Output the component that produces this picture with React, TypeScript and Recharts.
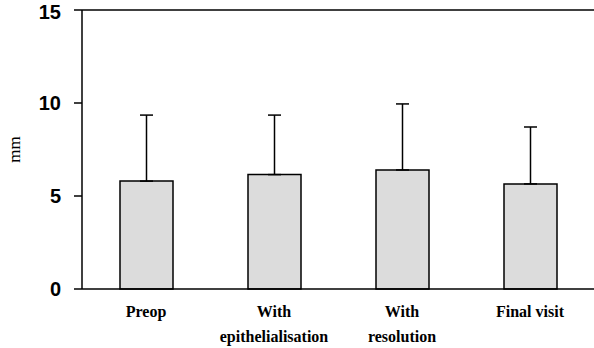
import React from "react";
import { BarChart, Bar, XAxis, YAxis, ErrorBar, ReferenceLine } from "recharts";

const categories = ["Preop", "With\nepithelialisation", "With\nresolution", "Final visit"];
const means = [5.8, 6.15, 6.4, 5.65];
const sdUp = [3.55, 3.2, 3.55, 3.06];
const yTicks = [0, 5, 10, 15];

const data = categories.map((c, i) => ({ name: c, value: means[i], err: [0, sdUp[i]] }));

const XTick = (props: any) => {
  const { x, y, payload } = props;
  const lines = String(payload.value).split("\n");
  return (
    <g>
      {lines.map((l: string, i: number) => (
        <text
          key={i}
          x={x}
          y={y + 28 + i * 25}
          textAnchor="middle"
          fontFamily="'Liberation Serif', 'Times New Roman', serif"
          fontWeight="bold"
          fontSize={16}
          fill="#000"
        >
          {l}
        </text>
      ))}
    </g>
  );
};

export default function App() {
  return (
    <div style={{ position: "absolute", left: 0, top: 0, width: 594, height: 348, background: "#fff" }}>
      <BarChart width={594} height={348} data={data} margin={{ top: 10, right: 0, left: 0, bottom: 0 }}>
        <XAxis
          dataKey="name"
          height={59}
          tickLine={false}
          tickSize={0}
          tickMargin={0}
          axisLine={{ stroke: "#000", strokeWidth: 1.5 }}
          tick={<XTick />}
          interval={0}
        />
        <YAxis
          width={82}
          domain={[0, 15]}
          ticks={yTicks}
          tickSize={8}
          tickMargin={13}
          axisLine={{ stroke: "#000", strokeWidth: 1.5 }}
          tickLine={{ stroke: "#000", strokeWidth: 1.5 }}
          tick={{ fill: "#000", fontSize: 20, fontWeight: "bold", fontFamily: "'Liberation Sans', Arial, sans-serif" }}
          label={{
            value: "mm",
            angle: -90,
            position: "insideLeft",
            offset: 14,
            style: { fontFamily: "'Liberation Serif', 'Times New Roman', serif", fontSize: 17, fill: "#000", textAnchor: "middle" },
          }}
        />
        <ReferenceLine y={15} stroke="#000" strokeWidth={1.5} ifOverflow="extendDomain" />
        <Bar dataKey="value" fill="#dcdcdc" stroke="#000" strokeWidth={1.5} barSize={53} isAnimationActive={false}>
          <ErrorBar dataKey="err" width={6.5} stroke="#000" strokeWidth={1.5} direction="y" />
        </Bar>
      </BarChart>
    </div>
  );
}
